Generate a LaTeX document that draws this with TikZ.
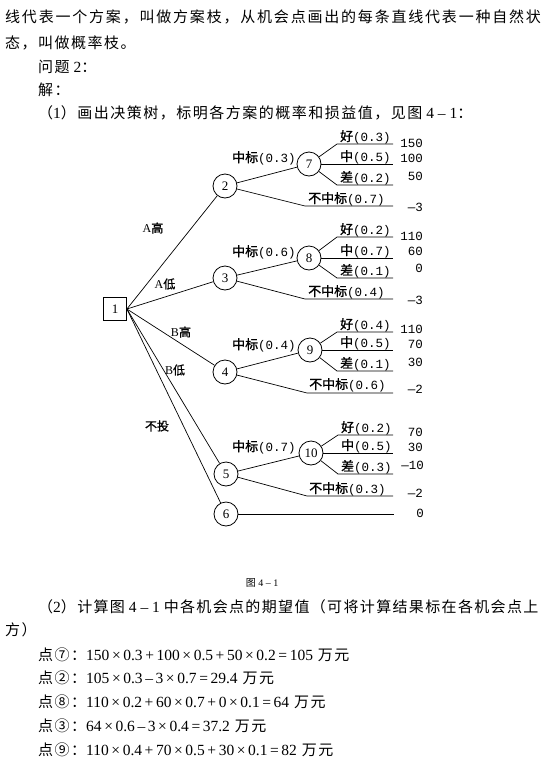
\documentclass[tikz,border=0pt]{standalone}
\usepackage{fontspec}
\setmainfont{Liberation Serif}
\newfontfamily\cjkt[LetterSpace=10]{Noto Sans CJK SC}
\newfontfamily\cjkw[LetterSpace=12]{Noto Sans CJK SC}
\newfontfamily\cjkn[LetterSpace=9]{Noto Sans CJK SC}
\newfontfamily\cjkb[FakeBold=1]{Noto Sans CJK SC}
\newfontfamily\monof{Liberation Mono}
\newcommand\zhb[1]{{\fontsize{13}{13}\selectfont\cjkb #1}}
\newcommand\lat[1]{{\rmfamily\fontsize{15.5}{18}\selectfont #1}}
\tikzset{
  para/.style={anchor=west, inner sep=0pt, font=\cjkt\fontsize{15}{18}\selectfont},
  chance/.style={circle, draw, line width=0.8pt, minimum size=24pt, inner sep=0pt, font=\rmfamily\fontsize{13}{13}\selectfont},
  decbox/.style={draw, line width=0.8pt, minimum size=23pt, inner sep=0pt, font=\rmfamily\fontsize{13}{13}\selectfont},
  blab/.style={inner sep=0pt, font=\monof\fontsize{12.5}{12.5}\selectfont},
  slab/.style={blab, anchor=base west},
  vlab/.style={inner sep=0pt, anchor=east, font=\monof\fontsize{12.5}{12.5}\selectfont},
  alab/.style={inner sep=0pt, font=\cjkb\fontsize{12}{12}\selectfont},
  edge/.style={line width=0.7pt}
}
\begin{document}
\begin{tikzpicture}[x=1pt,y=-1pt]
\useasboundingbox (0,0) rectangle (543,766);
% ---------- text above ----------
\node[para, font=\cjkw\fontsize{15}{18}\selectfont] (t1) at (5,17) {线代表一个方案，叫做方案枝，从机会点画出的每条直线代表一种自然状};
\node[para] (t2) at (5,43) {态，叫做概率枝。};
\node[para] (t3) at (38,67) {问题\lat{ 2}：};
\node[para] (t4) at (38,90) {解：};
\node[para] (t5) at (38,113) {（\lat{1}）画出决策树，标明各方案的概率和损益值，见图\lat{ 4 – 1}：};
% ---------- tree nodes ----------
\node[decbox] (n1) at (115,309) {1};
\node[chance] (n2) at (225,186) {2};
\node[chance] (n3) at (225,278) {3};
\node[chance] (n4) at (225,372) {4};
\node[chance] (n5) at (226,474) {5};
\node[chance] (n6) at (226,514) {6};
\node[chance] (n7) at (309,164) {7};
\node[chance] (n8) at (309,258) {8};
\node[chance] (n9) at (310,350) {9};
\node[chance] (n10) at (311,453) {10};
% decision branches
\draw[edge] (n1.east) -- (n2);
\draw[edge] (n1.east) -- (n3);
\draw[edge] (n1.east) -- (n4);
\draw[edge] (n1.east) -- (n5);
\draw[edge] (n1.east) -- (n6);
\node[alab] (la) at (153,228) {{\rmfamily A}高};
\node[alab] (lb) at (165,284) {{\rmfamily A}低};
\node[alab] (lc) at (181,332) {{\rmfamily B}高};
\node[alab] (ld) at (175,370) {{\rmfamily B}低};
\node[alab] (le) at (157,426) {不投};
% win branches
\draw[edge] (n2) -- (n7);
\draw[edge] (n3) -- (n8);
\draw[edge] (n4) -- (n9);
\draw[edge] (n5) -- (n10);
\node[blab, anchor=west] (w7) at (232,158) {\zhb{中标}(0.3)};
\node[blab, anchor=west] (w8) at (232,252) {\zhb{中标}(0.6)};
\node[blab, anchor=west] (w9) at (232,345) {\zhb{中标}(0.4)};
\node[blab, anchor=west] (w10) at (232,447) {\zhb{中标}(0.7)};
% lose branches
\coordinate (a2) at (305,206); \coordinate (b2) at (393,206);
\coordinate (a3) at (305,299); \coordinate (b3) at (393,299);
\coordinate (a4) at (307,393); \coordinate (b4) at (393,393);
\coordinate (a5) at (307,496); \coordinate (b5) at (393,496);
\coordinate (b6) at (394,514);
\draw[edge] (n2) -- (a2) -- (b2);
\draw[edge] (n3) -- (a3) -- (b3);
\draw[edge] (n4) -- (a4) -- (b4);
\draw[edge] (n5) -- (a5) -- (b5);
\draw[edge] (n6) -- (b6);
\node[slab] (z2) at (308,203) {\zhb{不中标}(0.7)};
\node[slab] (z3) at (308,296) {\zhb{不中标}(0.4)};
\node[slab] (z4) at (309,389) {\zhb{不中标}(0.6)};
\node[slab] (z5) at (309,493) {\zhb{不中标}(0.3)};
% state branches
\foreach \n/\t/\m/\b/\j in {7/144/164/185/337, 8/237/258/278/337, 9/332/350/371/337, 10/435/453/474/338}{
  \coordinate (p\n t) at (\j,\t); \coordinate (q\n t) at (393,\t);
  \coordinate (q\n m) at (393,\m);
  \coordinate (p\n b) at (\j,\b); \coordinate (q\n b) at (393,\b);
  \draw[edge] (n\n) -- (p\n t) -- (q\n t);
  \draw[edge] (n\n) -- (q\n m);
  \draw[edge] (n\n) -- (p\n b) -- (q\n b);
}
\node[slab] (s7a) at (340,141) {\zhb{好}(0.3)};
\node[slab] (s7b) at (340,161) {\zhb{中}(0.5)};
\node[slab] (s7c) at (340,182) {\zhb{差}(0.2)};
\node[slab] (s8a) at (340,234) {\zhb{好}(0.2)};
\node[slab] (s8b) at (340,255) {\zhb{中}(0.7)};
\node[slab] (s8c) at (340,275) {\zhb{差}(0.1)};
\node[slab] (s9a) at (340,329) {\zhb{好}(0.4)};
\node[slab] (s9b) at (340,347) {\zhb{中}(0.5)};
\node[slab] (s9c) at (340,368) {\zhb{差}(0.1)};
\node[slab] (s10a) at (341,432) {\zhb{好}(0.2)};
\node[slab] (s10b) at (341,450) {\zhb{中}(0.5)};
\node[slab] (s10c) at (341,471) {\zhb{差}(0.3)};
% values
\node[vlab] (v1) at (423,143) {150};
\node[vlab] (v2) at (423,158) {100};
\node[vlab] (v3) at (423,176) {50};
\node[vlab] (v4) at (423,207) {—3};
\node[vlab] (v5) at (423,236) {110};
\node[vlab] (v6) at (423,251) {60};
\node[vlab] (v7) at (423,268) {0};
\node[vlab] (v8) at (423,300) {—3};
\node[vlab] (v9) at (423,329) {110};
\node[vlab] (v10) at (423,344) {70};
\node[vlab] (v11) at (423,362) {30};
\node[vlab] (v12) at (423,389) {—2};
\node[vlab] (v13) at (423,432) {70};
\node[vlab] (v14) at (423,447) {30};
\node[vlab] (v15) at (424,465) {—10};
\node[vlab] (v16) at (423,493) {—2};
\node[vlab] (v17) at (424,513) {0};
% caption
\node[inner sep=0pt, font=\cjkt\fontsize{10}{10}\selectfont] (cap) at (262,583) {图{\rmfamily\fontsize{10}{10}\selectfont\ 4 – 1}};
% ---------- text below ----------
\node[para, font=\cjkn\fontsize{15}{18}\selectfont] (u1) at (38,607) {（\lat{2}）计算图\lat{ 4 – 1 }中各机会点的期望值（可将计算结果标在各机会点上};
\node[para] (u2) at (5,630) {方）};
\node[para] (u3) at (38,655) {点⑦：\lat{150\,×\,0.3\,+\,100\,×\,0.5\,+\,50\,×\,0.2\,=\,105} 万元};
\node[para] (u4) at (38,678) {点②：\lat{105\,×\,0.3\,–\,3\,×\,0.7\,=\,29.4} 万元};
\node[para] (u5) at (38,702) {点⑧：\lat{110\,×\,0.2\,+\,60\,×\,0.7\,+\,0\,×\,0.1\,=\,64} 万元};
\node[para] (u6) at (38,726) {点③：\lat{64\,×\,0.6\,–\,3\,×\,0.4\,=\,37.2} 万元};
\node[para] (u7) at (38,750) {点⑨：\lat{110\,×\,0.4\,+\,70\,×\,0.5\,+\,30\,×\,0.1\,=\,82} 万元};
\end{tikzpicture}
\end{document}
